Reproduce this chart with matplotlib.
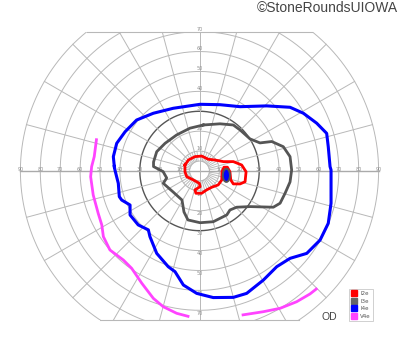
import numpy as np
import matplotlib
matplotlib.use("Agg")
import matplotlib.pyplot as plt
from matplotlib.patches import Rectangle, Ellipse
from matplotlib.lines import Line2D

# isopters, degrees from fixation (x right, y up)
i4e_x = [-42.8, -43.3, -41.6, -37.4, -31.6, -23.2, -13.2, 0.3, 10.3, 20.4, 33.8, 45.5,
         52.2, 58.9, 63.9, 64.7, 65.6, 66.1, 66.1, 64.7, 60.6, 53.9, 45.5, 38.8, 32.1,
         23.7, 17.0, 6.9, -1.4, -8.1, -12.3, -15.7, -21.5, -24.9, -25.7, -30.8, -34.9,
         -34.9, -39.1, -40.3, -40.8, -42.5]
i4e_y = [2.2, 7.2, 13.9, 19.7, 25.6, 29.0, 31.5, 33.5, 33.3, 32.3, 32.7, 32.0,
         29.0, 24.0, 18.9, 12.2, 2.2, 0.5, -16.2, -26.3, -34.7, -41.4, -43.9, -48.1, -54.8,
         -61.5, -63.5, -63.6, -61.5, -57.3, -50.6, -48.1, -41.4, -33.0, -29.6, -27.1, -22.1,
         -17.1, -14.6, -12.9, -6.2, 0.5]

i3e_x = [1.9, 10.3, 17.0, 20.4, 25.4, 30.4, 36.3, 42.1, 45.5, 46.3, 45.5, 43.0, 40.5,
         37.1, 25.4, 18.7, 15.3, 13.7, 6.9, 0.3, -5.8, -7.8, -8.8, -13.2, -18.2, -16.5,
         -18.3, -23.1, -23.1, -21.5, -17.3, -11.5, -4.8]
i3e_y = [23.1, 23.7, 23.1, 20.6, 16.1, 14.1, 14.8, 12.2, 7.2, 0.5, -5.5, -11.2, -16.2,
         -18.2, -17.9, -18.2, -19.6, -22.1, -25.5, -26.0, -24.6, -20.6, -14.6, -10.6, -6.2, -3.5,
         -0.3, 2.2, 4.5, 9.7, 13.9, 18.1, 21.5]

i2e_x = [-7.3, -5.6, -2.3, 1.1, 4.4, 7.8, 12.0, 17.0, 21.2, 23.4, 22.9, 20.4, 17.0,
         15.7, 15.3, 14.0, 12.3, 11.3, 11.2, 9.4, 6.1, 3.6, 1.1, -1.8, -2.3, 0.3,
         -0.1, -3.1, -6.4, -7.3]
i2e_y = [3.0, 5.5, 7.2, 7.5, 5.9, 5.5, 4.7, 4.7, 3.0, -0.4, -5.4, -6.5, -6.5,
         -4.5, -0.4, 1.9, 1.9, -0.4, -4.5, -7.0, -8.2, -9.5, -11.2, -11.2, -9.5, -7.9,
         -6.2, -4.5, -2.9, -0.4]

v4e_left_x = [-51.7, -52.9, -54.2, -54.7, -53.4, -50.9, -49.1, -48.3, -45.0, -38.3,
              -34.1, -29.0, -23.2, -18.2, -11.5, -5.1]
v4e_left_y = [16.4, 7.2, 2.2, -2.9, -12.1, -21.3, -27.1, -33.0, -39.7, -44.7,
              -48.9, -56.4, -64.0, -68.2, -71.5, -73.2]
v4e_right_x = [21.2, 32.1, 40.5, 48.8, 55.5, 59.2]
v4e_right_y = [-72.4, -70.7, -69.0, -65.7, -61.8, -58.9]

blind_spot = (13.5, -2.2)

legend_labels = ["I2e", "I3e", "I4e", "V4e"]
legend_colors = ["#ff0000", "#666666", "#0000ff", "#ff44ff"]

rings = list(range(10, 100, 10))
meridians = np.arange(0, 360, 15)
top_lim, bottom_lim = 70, -75

fig = plt.figure(figsize=(4.0, 3.52), dpi=100)
ax = fig.add_axes([0, 0, 1, 1])
ax.set_xlim(-100.25, 100.75)
ax.set_ylim(-90.95, 85.9)
ax.axis("off")

clip = Rectangle((-95, bottom_lim), 190, top_lim - bottom_lim, transform=ax.transData)
grid = "#b8b8b8"
t = np.linspace(0, 2 * np.pi, 400)

# rings
for r in rings:
    col, lw = ("#555555", 1.0) if r == 30 else (grid, 0.7)
    ln, = ax.plot(r * np.cos(t), r * np.sin(t), color=col, lw=lw, zorder=1)
    ln.set_clip_path(clip)
ax.plot(5 * np.cos(t), 5 * np.sin(t), color=grid, lw=0.7, zorder=1)

# meridians
for a in np.deg2rad(meridians):
    ln, = ax.plot([5 * np.cos(a), 90 * np.cos(a)], [5 * np.sin(a), 90 * np.sin(a)],
                  color=grid, lw=0.7, zorder=1)
    ln.set_clip_path(clip)
for a in np.deg2rad(meridians + 7.5):
    ax.plot([5 * np.cos(a), 10 * np.cos(a)], [5 * np.sin(a), 10 * np.sin(a)],
            color=grid, lw=0.6, zorder=1)
ax.plot([-90, 90], [0, 0], color="#aaaaaa", lw=1.0, zorder=1)
ax.plot([0, 0], [-5, 5], color=grid, lw=0.7, zorder=1)

# top / bottom chords
for yl in (top_lim, bottom_lim):
    xe = np.sqrt(90 ** 2 - yl ** 2)
    ax.plot([-xe, xe], [yl, yl], color=grid, lw=0.8, zorder=1)

# degree labels
lab = dict(fontsize=3.5, color="#909090", ha="center", va="center", zorder=2)
for r in rings:
    ax.text(-r, 0.8, str(r), **lab)
    ax.text(r, 0.8, str(r), **lab)
    if r <= 70:
        ax.text(0, r + 1.3, str(r), **lab)
        ax.text(0, -r - 1.6, str(r), **lab)

# isopters
ax.plot(v4e_left_x, v4e_left_y, color=legend_colors[3], lw=2.0, zorder=3,
        solid_capstyle="butt", solid_joinstyle="round")
ax.plot(v4e_right_x, v4e_right_y, color=legend_colors[3], lw=2.0, zorder=3,
        solid_capstyle="butt", solid_joinstyle="round")
ax.plot(i4e_x + i4e_x[:1], i4e_y + i4e_y[:1], color=legend_colors[2], lw=2.2, zorder=4,
        solid_joinstyle="round")
ax.plot(i3e_x + i3e_x[:1], i3e_y + i3e_y[:1], color="#555555", lw=2.0, zorder=4,
        solid_joinstyle="round")
ax.plot(i2e_x + i2e_x[:1], i2e_y + i2e_y[:1], color=legend_colors[0], lw=2.0, zorder=5,
        solid_joinstyle="round")
ax.add_patch(Ellipse(blind_spot, 3.6, 6.6, facecolor="#0000ff", edgecolor="#555555",
                     lw=1.4, zorder=6))

# legend
handles = [Line2D([], [], ls="none", marker="s", markersize=4.5, color=c) for c in legend_colors]
leg = ax.legend(handles, legend_labels, loc="lower right", bbox_to_anchor=(0.933, 0.088),
                fontsize=4.0, frameon=True, fancybox=False, edgecolor="#bbbbbb",
                handlelength=0.9, handletextpad=0.7, labelspacing=0.45,
                borderpad=0.45, borderaxespad=0)
leg.get_frame().set_linewidth(0.6)
for txt in leg.get_texts():
    txt.set_color("#555555")

ax.text(65.1, -73.4, "OD", fontsize=7.5, color="#444444", ha="center", va="center",
        family="Liberation Sans")
fig.text(0.995, 0.977, "\u00a9StoneRoundsUIOWA", fontsize=10, color="#444444",
         ha="right", va="center", family="Liberation Sans")

fig.savefig("out.png", dpi=100)
